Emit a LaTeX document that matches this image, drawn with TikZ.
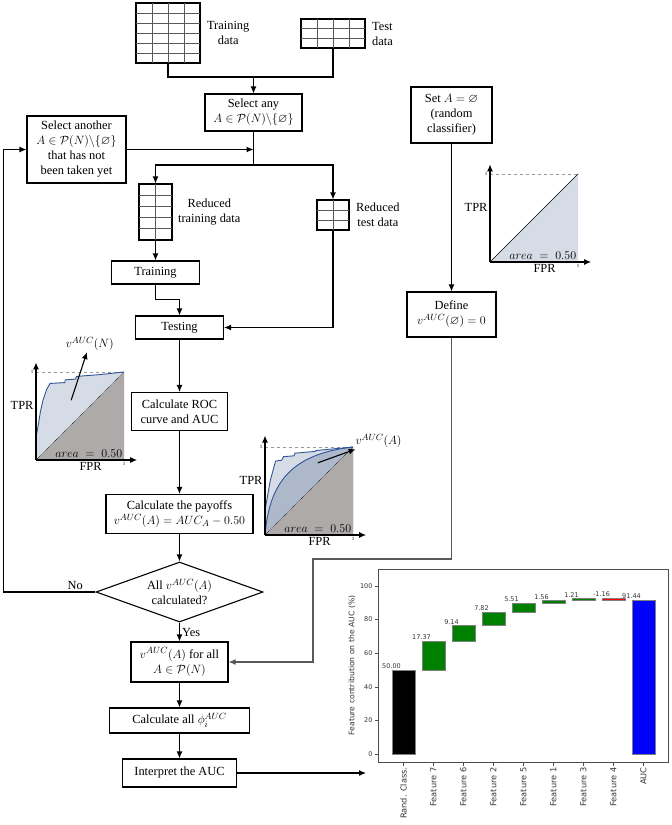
\documentclass[tikz,border=0pt]{standalone}
\usepackage{amsmath}
\usepackage{amssymb}
\usepackage{fontspec}
\setmainfont{Liberation Serif}
\newfontfamily\chartfont{DejaVu Sans}
\usetikzlibrary{positioning}
\usetikzlibrary{arrows.meta}
\usetikzlibrary{shapes.geometric}
\definecolor{roclight}{HTML}{D6DCE5}
\definecolor{rocmid}{HTML}{ADB9CA}
\definecolor{rocgrey}{HTML}{AEAAAA}
\definecolor{roccurve}{HTML}{2F5597}
\definecolor{bargreen}{HTML}{008000}
\definecolor{barred}{HTML}{FF0000}
\definecolor{barblue}{HTML}{0000FF}
\tikzset{my_flowchart/.style={>={Latex[length=7pt,width=6pt]},line width=1.1pt}}
\tikzset{my_box/.style={draw, align=center, inner sep=2pt, font=\fontsize{12.4}{15}\selectfont}}
\tikzset{my_label/.style={align=center, inner sep=2pt, font=\fontsize{12.4}{15}\selectfont}}
\tikzset{my_table/.style={draw, inner sep=0pt}}
\tikzset{my_grid/.style={line width=0.7pt, black!65}}
\tikzset{my_axis/.style={line width=1.3pt, -{Latex[length=7pt,width=6pt]}}}
\tikzset{my_tick/.style={inner sep=2pt, font=\fontsize{5}{6}\selectfont}}
\tikzset{my_curve/.style={roccurve, line width=0.9pt, line join=round}}
\tikzset{my_chart/.style={font=\chartfont\fontsize{6.5}{7.5}\selectfont, text=black!80}}

\begin{document}
\begin{tikzpicture}[my_flowchart, x=1pt, y=-1pt]
    \useasboundingbox (0,0) rectangle (672,825);
    %\draw[help lines] (0,0) grid (672,825);

    % data tables
    \node[my_table, minimum width=64pt, minimum height=60pt] (trainset) at (168,33) {};
    \foreach \c in {152,168,184} \draw[my_grid] (\c,3) -- (\c,63);
    \foreach \r in {13,23,33,43,53} \draw[my_grid] (136,\r) -- (200,\r);
    \node[my_label, right=4pt of trainset] (trainlbl) {Training\\data};

    \node[my_table, minimum width=64pt, minimum height=29pt] (testset) at (333,33.5) {};
    \foreach \c in {317,333,349} \draw[my_grid] (\c,19) -- (\c,48);
    \foreach \r in {28.7,38.3} \draw[my_grid] (301,\r) -- (365,\r);
    \node[my_label, right=4pt of testset] (testlbl) {Test\\data};

    \node[my_table, minimum width=33pt, minimum height=56pt] (redtrain) at (155.5,212) {};
    \draw[my_grid] (155.5,184) -- (155.5,240);
    \foreach \r in {195.2,206.4,217.6,228.8} \draw[my_grid] (139,\r) -- (172,\r);
    \node[my_label, right=3pt of redtrain] (redtrainlbl) {Reduced\\training data};

    \node[my_table, minimum width=32pt, minimum height=30pt] (redtest) at (333,215) {};
    \draw[my_grid] (333,200) -- (333,230);
    \foreach \r in {210,220} \draw[my_grid] (317,\r) -- (349,\r);
    \node[my_label, right=4pt of redtest] (redtestlbl) {Reduced\\test data};

    % flowchart boxes
    \node[my_box, minimum width=97pt, minimum height=37pt] (selany) at (253.5,112.5) {Select any\\$A\in\mathcal{P}(N)\backslash\{\varnothing\}$};
    \node[my_box, minimum width=99pt, minimum height=67pt] (selanother) at (76.5,149.5) {Select another\\$A\in\mathcal{P}(N)\backslash\{\varnothing\}$\\that has not\\been taken yet};
    \node[my_box, minimum width=81pt, minimum height=56pt] (setempty) at (451.5,115) {Set $A=\varnothing$\\(random\\classifier)};
    \node[my_box, minimum width=88pt, minimum height=23pt] (training) at (155.5,272.5) {Training};
    \node[my_box, minimum width=88pt, minimum height=23pt] (testing) at (179.5,327.5) {Testing};
    \node[my_box, minimum width=96pt, minimum height=38pt] (roc) at (179.5,411.5) {Calculate ROC\\curve and AUC};
    \node[my_box, minimum width=89pt, minimum height=45pt] (define) at (451.5,314.5) {Define\\$v^{AUC}(\varnothing)=0$};
    \node[my_box, minimum width=147pt, minimum height=39pt] (payoffs) at (179.5,514) {Calculate the payoffs\\$v^{AUC}(A)=AUC_A-0.50$};
    \node[my_box, diamond, aspect=2.8, inner sep=0pt, minimum width=167pt, minimum height=60pt] (check) at (179.5,592) {All $v^{AUC}(A)$\\calculated?};
    \node[my_box, minimum width=97pt, minimum height=40pt] (forall) at (179.5,662) {$v^{AUC}(A)$ for all\\$A\in\mathcal{P}(N)$};
    \node[my_box, minimum width=140pt, minimum height=25pt] (phi) at (179.5,720.5) {Calculate all $\phi_{i}^{AUC}$};
    \node[my_box, minimum width=114pt, minimum height=28pt] (interpret) at (179.5,773) {Interpret the AUC};

    \coordinate (join) at (253.5,77);
    \coordinate (split) at (253.5,165);
    \coordinate (chartin) at (366,773);

    % connectors
    \draw (trainset) |- (join -| testset) -- (testset);
    \draw[->] (join) -- (selany);
    \draw (selany) -- (split);
    \draw[->] (selanother) -- (selanother -| selany);
    \draw[->] (split) -| (redtrain);
    \draw[->] (split) -| (redtest);
    \draw[->] (redtrain) -- (training);
    \draw[->] (training.south) -- ++(0,15) -| (testing);
    \draw[->] (redtest) |- (testing);
    \draw[->] (testing) -- (roc);
    \draw[->] (roc) -- (payoffs);
    \draw[->] (payoffs) -- (check);
    \draw[->] (check) -- node[my_label, right] (yeslbl) {Yes} (forall);
    \draw[->] (check.west) -- node[my_label, pos=0.22, above] (nolbl) {No} ++(-92,0) |- (selanother);
    \draw[->] (forall) -- (phi);
    \draw[->] (phi) -- (interpret);
    \draw[->] (interpret) -- (chartin);
    \draw[->] (setempty) -- (define);
    \draw[->, black!65] (define) |- (313,559) |- (forall);

    % ROC of the random classifier
    \begin{scope}[shift={(490,262)}, x=88pt, y=88pt]
        \fill[roclight] (0,0) -- (1,1) -- (1,0) -- cycle;
        \draw[black!40, dashed, line width=0.5pt] (0,1) -- (1,1);
        \draw[line width=0.6pt] (0,0) -- (1,1);
        \draw[my_axis] (0,0) -- (0,1.11);
        \draw[my_axis] (0,0) -- (1.15,0);
        \node[my_tick, left] (ry1) at (0,1) {1};
        \node[my_tick, below] (rx1) at (1,0) {1};
        \node[my_label, left] (rtpr) at (0,0.62) {TPR};
        \node[my_label, below] (rfpr) at (0.62,0) {FPR};
        \node[my_label, above] (rarea) at (0.6,0) {$area\;=\;0.50$};
    \end{scope}

    % ROC with all features
    \begin{scope}[shift={(36,460)}, x=88pt, y=88pt]
        \fill[roclight] (0,0) -- (0,.26) -- (.03,.42) -- (.05,.55) -- (.08,.68) -- (.12,.80) -- (.16,.87) -- (.33,.88) -- (.33,.91) -- (.45,.92) -- (.46,.95) -- (.72,.97) -- (1,1) -- (1,0) -- cycle;
        \fill[rocgrey] (0,0) -- (1,1) -- (1,0) -- cycle;
        \draw[black!40, dashed, line width=0.5pt] (0,1) -- (1,1);
        \draw[densely dotted, line width=0.6pt] (0,0) -- (1,1);
        \draw[my_curve] (0,0) -- (0,.26) -- (.03,.42) -- (.05,.55) -- (.08,.68) -- (.12,.80) -- (.16,.87) -- (.33,.88) -- (.33,.91) -- (.45,.92) -- (.46,.95) -- (.72,.97) -- (1,1);
        \draw[my_axis] (0,0) -- (0,1.11);
        \draw[my_axis] (0,0) -- (1.15,0);
        \node[my_tick, left] (ny1) at (0,1) {1};
        \node[my_tick, below] (nx1) at (1,0) {1};
        \node[my_label, left] (ntpr) at (0,0.62) {TPR};
        \node[my_label, below] (nfpr) at (0.62,0) {FPR};
        \node[my_label, above] (narea) at (0.6,0) {$area\;=\;0.50$};
        \coordinate (vNtail) at (.40,.68);
        \node[my_label, inner sep=1pt] (vN) at (.61,1.32) {$v^{AUC}(N)$};
        \draw[->] (vNtail) -- (vN);
    \end{scope}

    % ROC with the subset A
    \begin{scope}[shift={(265,535)}, x=88pt, y=88pt]
        \fill[roclight] (0,0) -- (0,.28) -- (.03,.45) -- (.06,.62) -- (.12,.84) -- (.19,.85) -- (.21,.89) -- (.33,.90) -- (.34,.93) -- (.57,.95) -- (.58,.96) -- (1,1) -- (1,0) -- cycle;
        \fill[rocmid] (0,0) .. controls (.05,.6) and (.3,.92) .. (1,1) -- (1,0) -- cycle;
        \fill[rocgrey] (0,0) -- (1,1) -- (1,0) -- cycle;
        \draw[black!40, dashed, line width=0.5pt] (0,1) -- (1,1);
        \draw[densely dotted, line width=0.6pt] (0,0) -- (1,1);
        \draw[my_curve] (0,0) -- (0,.28) -- (.03,.45) -- (.06,.62) -- (.12,.84) -- (.19,.85) -- (.21,.89) -- (.33,.90) -- (.34,.93) -- (.57,.95) -- (.58,.96) -- (1,1);
        \draw[my_curve] (0,0) .. controls (.05,.6) and (.3,.92) .. (1,1);
        \draw[my_axis] (0,0) -- (0,1.13);
        \draw[my_axis] (0,0) -- (1.15,0);
        \node[my_tick, left] (ay1) at (0,1) {1};
        \node[my_tick, below] (ax1) at (1,0) {1};
        \node[my_label, left] (atpr) at (0,0.62) {TPR};
        \node[my_label, below] (afpr) at (0.62,0) {FPR};
        \node[my_label, above] (aarea) at (0.6,0) {$area\;=\;0.50$};
        \coordinate (vAtail) at (.6,.82);
        \node[my_label, inner sep=1pt] (vA) at (1.29,1.07) {$v^{AUC}(A)$};
        \draw[->] (vAtail) -- (vA);
    \end{scope}

    % waterfall chart of the feature contributions
    \begin{scope}[shift={(403.5,754)}, x=30pt, y=1.68pt, my_chart]
        \draw[black!70, line width=0.8pt] (-0.85,-4.76) rectangle (8.82,110.1);
        \foreach \v in {0,20,...,100} {
            \draw[black!70, line width=0.6pt] (-0.85,\v) -- ++(-3.5pt,0);
            \node[anchor=east, inner sep=0pt] (ytick\v) at ([xshift=-5pt]-0.85,\v) {\v};
        }
        \foreach \i/\lo/\hi/\col in {0/0/50/black, 1/50/67.37/bargreen, 2/67.37/76.51/bargreen, 3/76.51/84.33/bargreen, 4/84.33/89.84/bargreen, 5/89.84/91.40/bargreen, 6/91.40/92.61/bargreen, 7/92.61/91.45/barred, 8/0/91.44/barblue}
            \filldraw[fill=\col, draw=gray, line width=0.6pt] (\i-0.38,\lo) rectangle (\i+0.38,\hi);
        \foreach \i/\top/\txt in {0/50/50.00, 1/67.37/17.37, 2/76.51/9.14, 3/84.33/7.82, 4/89.84/5.51, 5/91.40/1.56, 6/92.61/1.21, 7/92.61/-1.16, 8/91.44/91.44}
            \node[anchor=south, inner sep=0.8pt] (val\i) at (\i-0.4,\top) {\txt};
        \foreach \i/\txt in {0/Rand. Class., 1/Feature 7, 2/Feature 6, 3/Feature 2, 4/Feature 5, 5/Feature 1, 6/Feature 3, 7/Feature 4, 8/AUC} {
            \draw[black!70, line width=0.6pt] (\i,-4.76) -- ++(0,-3.5pt);
            \node[rotate=90, anchor=east, inner sep=0pt, font=\chartfont\fontsize{8.2}{9}\selectfont] (cat\i) at ([yshift=-5pt]\i,-4.76) {\txt};
        }
        \node[rotate=90, inner sep=0pt, font=\chartfont\fontsize{7.7}{9}\selectfont] (ylab) at ([xshift=-26pt]-0.85,52.7) {Feature contribution on the AUC (\%)};
    \end{scope}
\end{tikzpicture}
\end{document}
